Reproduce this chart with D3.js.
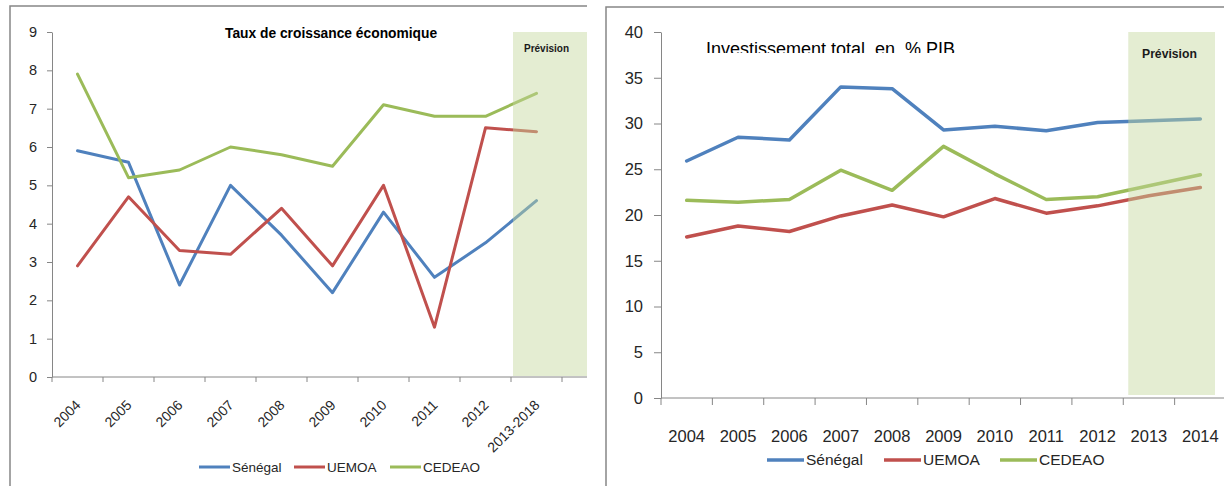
<!DOCTYPE html>
<html>
<head>
<meta charset="utf-8">
<script src="https://cdn.jsdelivr.net/npm/d3@7"></script>
<style>
  body { margin: 0; background: #fff; }
  svg { display: block; font-family: "Liberation Sans", Arial, sans-serif; }
</style>
</head>
<body>
<svg id="chart" width="1224" height="486"></svg>
<script>
const seriesNames = ["Sénégal", "UEMOA", "CEDEAO"];
const seriesColors = ["#4f81bd", "#c0504d", "#9bbb59"];

// left chart: taux de croissance
const growthCats = ["2004", "2005", "2006", "2007", "2008", "2009", "2010", "2011", "2012", "2013-2018"];
const growthSenegal = [5.9, 5.6, 2.4, 5.0, 3.7, 2.2, 4.3, 2.6, 3.5, 4.6];
const growthUemoa = [2.9, 4.7, 3.3, 3.2, 4.4, 2.9, 5.0, 1.3, 6.5, 6.4];
const growthCedeao = [7.9, 5.2, 5.4, 6.0, 5.8, 5.5, 7.1, 6.8, 6.8, 7.4];
const growthTicks = [0, 1, 2, 3, 4, 5, 6, 7, 8, 9];

// right chart: investissement
const investCats = ["2004", "2005", "2006", "2007", "2008", "2009", "2010", "2011", "2012", "2013", "2014"];
const investSenegal = [25.9, 28.5, 28.2, 34.0, 33.8, 29.3, 29.7, 29.2, 30.1, 30.3, 30.5];
const investUemoa = [17.6, 18.8, 18.2, 19.9, 21.1, 19.8, 21.8, 20.2, 21.0, 22.1, 23.0];
const investCedeao = [21.6, 21.4, 21.7, 24.9, 22.7, 27.5, 24.5, 21.7, 22.0, 23.2, 24.4];
const investTicks = [0, 5, 10, 15, 20, 25, 30, 35, 40];

const svg = d3.select("#chart");
const textCol = "#262626";
const axisCol = "#868686";

function panel(c) {
  const g = svg.append("g");

  // cadre (only top + left edge are visible in the crop)
  g.append("path")
    .attr("d", `M${c.frame[0]},600V${c.frame[1]}H${c.frame[2]}`)
    .attr("fill", "none")
    .attr("stroke", "#878787")
    .attr("stroke-width", 1.5);

  const x = d3.scaleBand().domain(c.cats).range(c.xRange);
  const y = d3.scaleLinear().domain([0, d3.max(c.yTicks)]).range(c.yRange);
  const cx = (d) => x(d) + x.bandwidth() / 2;

  // y axis
  g.append("g")
    .attr("transform", `translate(${c.xRange[0]},0)`)
    .call(d3.axisLeft(y).tickValues(c.yTicks).tickSize(c.tick).tickSizeOuter(0).tickPadding(c.yPad))
    .call((a) => a.select(".domain").attr("stroke", axisCol))
    .call((a) => a.selectAll(".tick line").attr("stroke", axisCol))
    .call((a) => a.selectAll(".tick text")
      .attr("fill", textCol)
      .attr("font-size", c.yFont)
      .attr("font-family", null));

  // x axis line + ticks at band edges
  g.append("line")
    .attr("x1", c.xRange[0]).attr("x2", c.axisEnd)
    .attr("y1", y(0)).attr("y2", y(0))
    .attr("stroke", axisCol);
  g.append("g")
    .selectAll("line")
    .data(c.cats.map((d) => x(d)).concat([c.xRange[1]]))
    .join("line")
    .attr("x1", (d) => d).attr("x2", (d) => d)
    .attr("y1", y(0)).attr("y2", y(0) + c.tick)
    .attr("stroke", axisCol);

  // x labels
  const xl = g.append("g")
    .selectAll("text")
    .data(c.cats)
    .join("text")
    .attr("fill", textCol)
    .attr("font-size", c.xFont)
    .text((d) => d);
  if (c.rotate) {
    xl.attr("text-anchor", "end")
      .attr("transform", (d) => `translate(${cx(d) + 4},${y(0) + 29}) rotate(-45)`);
  } else {
    xl.attr("text-anchor", "middle")
      .attr("x", cx)
      .attr("y", y(0) + 44);
  }

  // lines
  const line = d3.line()
    .x((d, i) => cx(c.cats[i]))
    .y((d) => y(d));
  g.append("g")
    .selectAll("path")
    .data(c.series)
    .join("path")
    .attr("d", line)
    .attr("fill", "none")
    .attr("stroke", (d, i) => seriesColors[i])
    .attr("stroke-width", c.lineW)
    .attr("stroke-linejoin", "round")
    .attr("stroke-linecap", "round");

  // zone prévision (drawn over the lines, so they fade)
  const sx = x(c.forecastFrom) + c.shadeDx;
  g.append("rect")
    .attr("x", sx)
    .attr("y", y(d3.max(c.yTicks)))
    .attr("width", c.shadeEnd - sx)
    .attr("height", y(0) - c.shadeGap - y(d3.max(c.yTicks)))
    .attr("fill", "#c3d69b")
    .attr("opacity", 0.45);
  g.append("text")
    .attr("x", c.prev[0]).attr("y", c.prev[1])
    .attr("font-size", c.prev[2])
    .attr("font-weight", "bold")
    .attr("fill", "#1a1a1a")
    .text("Prévision");

  // legend
  const lg = g.append("g")
    .selectAll("g")
    .data(seriesNames)
    .join("g")
    .attr("transform", (d, i) => `translate(${c.legX[i]},${c.legY})`);
  lg.append("line")
    .attr("x2", c.legLen)
    .attr("stroke", (d, i) => seriesColors[i])
    .attr("stroke-width", c.lineW);
  lg.append("text")
    .attr("x", c.legLen + 2)
    .attr("dy", "0.35em")
    .attr("font-size", c.legFont)
    .attr("fill", textCol)
    .text((d) => d);

  return g;
}

const left = panel({
  frame: [10, 6, 587],
  cats: growthCats,
  series: [growthSenegal, growthUemoa, growthCedeao],
  yTicks: growthTicks,
  xRange: [52, 562],
  axisEnd: 587,
  yRange: [377, 32],
  tick: 5,
  yPad: 10,
  yFont: 14.5,
  xFont: 14,
  rotate: true,
  lineW: 3,
  forecastFrom: "2013-2018",
  shadeDx: 2,
  shadeEnd: 587,
  shadeGap: 1,
  prev: [524, 52, 10],
  legX: [199, 294, 390],
  legY: 467,
  legLen: 31,
  legFont: 13.5,
});
left.append("text")
  .attr("x", 225).attr("y", 38)
  .attr("font-size", 13.8)
  .attr("font-weight", "bold")
  .attr("fill", "#000")
  .text("Taux de croissance économique");

const right = panel({
  frame: [606, 7, 1224],
  cats: investCats,
  series: [investSenegal, investUemoa, investCedeao],
  yTicks: investTicks,
  xRange: [661, 1226],
  axisEnd: 1224,
  yRange: [398, 32],
  tick: 7,
  yPad: 11,
  yFont: 16.5,
  xFont: 16.5,
  rotate: false,
  lineW: 3.5,
  forecastFrom: "2013",
  shadeDx: 5,
  shadeEnd: 1215,
  shadeGap: 3,
  prev: [1142, 58, 12.2],
  legX: [767, 884, 1000],
  legY: 460,
  legLen: 37,
  legFont: 15.5,
});

// title is cut off at the bottom in the original
svg.append("clipPath").attr("id", "titleClip")
  .append("rect").attr("x", 600).attr("y", 0).attr("width", 600).attr("height", 53);
right.append("text")
  .attr("clip-path", "url(#titleClip)")
  .attr("x", 706).attr("y", 55)
  .attr("font-size", 18)
  .attr("fill", "#000")
  .style("white-space", "pre")
  .text("Investissement total  en  % PIB");
</script>
</body>
</html>
